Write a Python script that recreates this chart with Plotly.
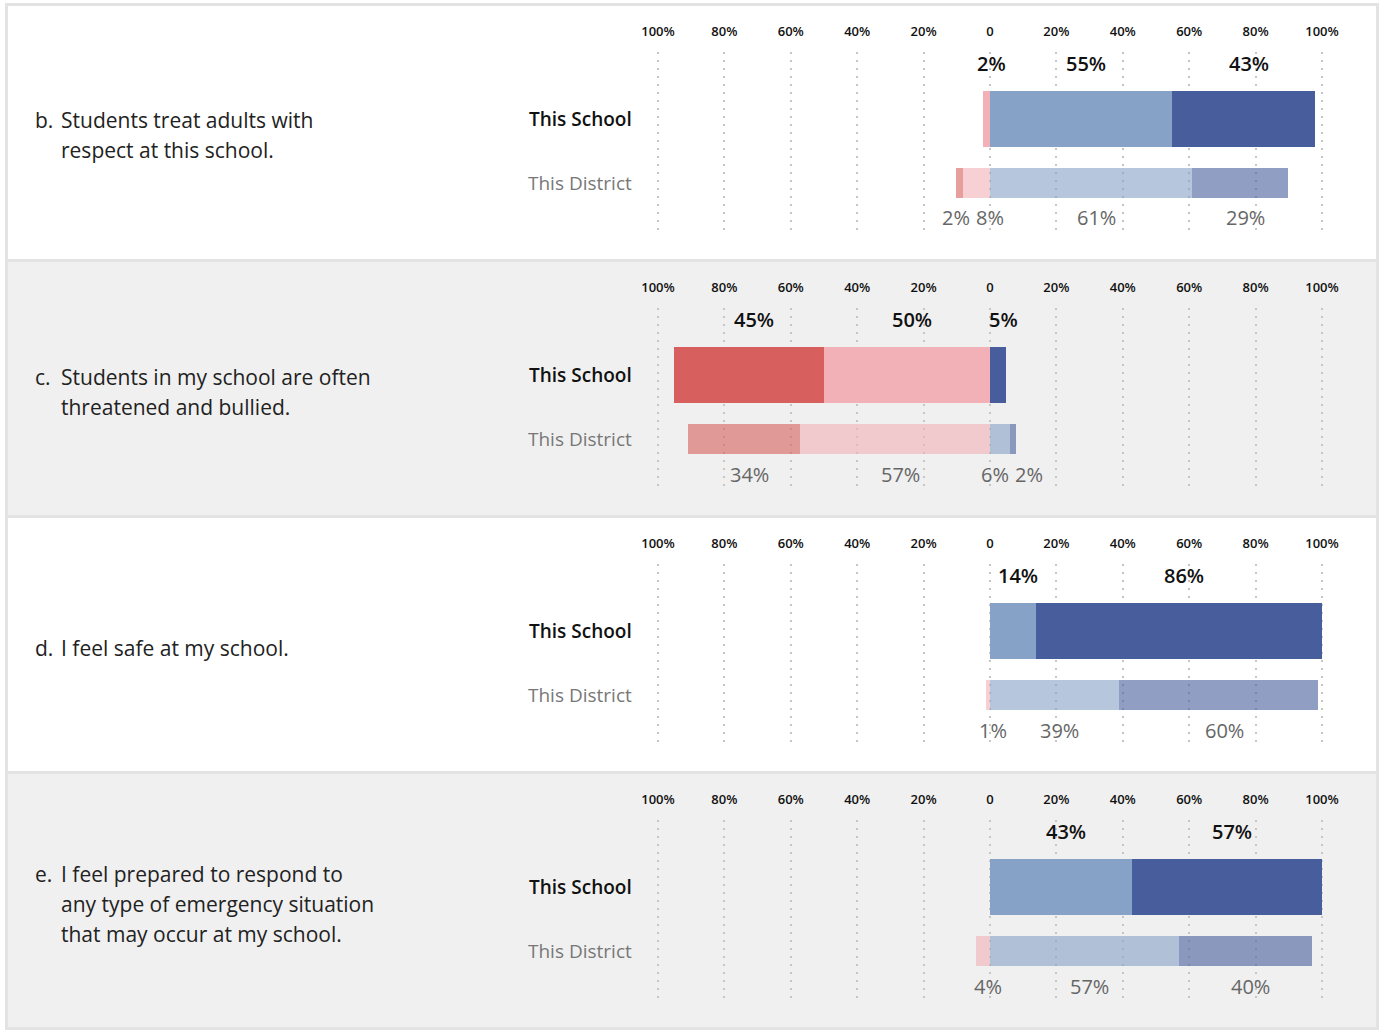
import plotly.graph_objects as go

# ---------------- data ----------------
q_letters = ["b.", "c.", "d.", "e."]
q_lines = [
    ["Students treat adults with", "respect at this school."],
    ["Students in my school are often", "threatened and bullied."],
    ["I feel safe at my school."],
    ["I feel prepared to respond to", "any type of emergency situation", "that may occur at my school."],
]
groups = ["This School", "This District"]

school_sd = [0, 45, 0, 0]
school_d = [2, 50, 0, 0]
school_a = [55, 0, 14, 43]
school_sa = [43, 5, 86, 57]

district_sd = [2, 34, 0, 0]
district_d = [8, 57, 1, 4]
district_a = [61, 6, 39, 57]
district_sa = [29, 2, 60, 40]

tick_vals = [-100, -80, -60, -40, -20, 0, 20, 40, 60, 80, 100]
tick_text = ["100%", "80%", "60%", "40%", "20%", "0", "20%", "40%", "60%", "80%", "100%"]

# ---------------- style ----------------
W, H = 1382, 1030
FONT = "Open Sans"
C_SA = "#475d9c"
C_A = "#86a2c7"
C_D = "#f2b1b6"
C_SD = "#d75f5e"
PANEL_BG = ["#ffffff", "#f0f0f0", "#ffffff", "#f0f0f0"]
BORDER = "#e3e3e3"
GRID = "#c6c6c6"
PANEL_H = 256
X_LEFT, X_RIGHT = 658, 1322          # pixel span of -100..100
PX_PER_UNIT = (X_RIGHT - X_LEFT) / 200.0
PAD_UNITS = 2                        # extra range so edge gridlines are drawn


def fx(p):
    return p / W


def fy(p):
    return 1 - p / H


fig = go.Figure()
shapes = []
annotations = []

for k in range(4):
    top = 4.5 + PANEL_H * k
    shapes.append(dict(type="rect", xref="paper", yref="paper", layer="below",
                       x0=fx(6.5), x1=fx(1377.5), y0=fy(top + PANEL_H), y1=fy(top),
                       fillcolor=PANEL_BG[k], line=dict(color=BORDER, width=3)))

    xa = "x" if k == 0 else f"x{k+1}"
    ya = "y" if k == 0 else f"y{k+1}"
    xname = "xaxis" if k == 0 else f"xaxis{k+1}"
    yname = "yaxis" if k == 0 else f"yaxis{k+1}"

    vals = {
        "sd": [school_sd[k], district_sd[k]],
        "d": [school_d[k], district_d[k]],
        "a": [school_a[k], district_a[k]],
        "sa": [school_sa[k], district_sa[k]],
    }
    widths = [0.875, 0.469]
    opac = [1.0, 0.6]
    for key, col, sign in [("d", C_D, -1), ("sd", C_SD, -1), ("a", C_A, 1), ("sa", C_SA, 1)]:
        fig.add_trace(go.Bar(
            x=[sign * v for v in vals[key]], y=groups, orientation="h",
            width=widths, marker=dict(color=col, opacity=opac, line=dict(width=0)),
            xaxis=xa, yaxis=ya, showlegend=False, hoverinfo="skip"))

    # domain of the plotting area for this panel
    d_top = 52 + PANEL_H * k
    d_bot = 235 + PANEL_H * k
    pad_px = PAD_UNITS * PX_PER_UNIT
    fig.layout[xname] = dict(domain=[fx(X_LEFT - pad_px), fx(X_RIGHT + pad_px)],
                             range=[-100 - PAD_UNITS, 100 + PAD_UNITS],
                             anchor=ya, side="top", tickvals=tick_vals, ticktext=tick_text,
                             showgrid=True, gridcolor=GRID, gridwidth=2, griddash="2px,6px",
                             zeroline=False, showline=False, ticks="outside", ticklen=10,
                             tickcolor="rgba(0,0,0,0)", fixedrange=True, automargin=False,
                             tickfont=dict(family=FONT, size=13, color="#111", weight=600))
    fig.layout[yname] = dict(domain=[fy(d_bot), fy(d_top)], type="category",
                             categoryarray=groups, range=[1.8125, -1.047],
                             anchor=xa, showticklabels=False, showgrid=False,
                             zeroline=False, fixedrange=True, automargin=False)

    # data labels
    for gi, g in enumerate(groups):
        sd, d, a, sa = vals["sd"][gi], vals["d"][gi], vals["a"][gi], vals["sa"][gi]
        labs = []
        if sd:
            labs.append([-(d + sd / 2), sd])
        if d:
            labs.append([-(d / 2), d])
        if a:
            labs.append([a / 2, a])
        if sa:
            labs.append([a + sa / 2, sa])

        # simple collision avoidance (in data units)
        def wid(v):
            return (len(f"{v}%") * 11 + 12) / PX_PER_UNIT

        for _ in range(20):
            for i in range(len(labs) - 1):
                need = (wid(labs[i][1]) + wid(labs[i + 1][1])) / 2
                gap = labs[i + 1][0] - labs[i][0]
                if gap < need:
                    push = (need - gap) / 2
                    labs[i][0] -= push
                    labs[i + 1][0] += push
        for pos, v in labs:
            if gi == 0:
                annotations.append(dict(x=pos, y=g, xref=xa, yref=ya, text=f"{v}%",
                                        showarrow=False, xshift=5, yshift=56,
                                        font=dict(family=FONT, size=20, color="#111", weight=600)))
            else:
                annotations.append(dict(x=pos, y=g, xref=xa, yref=ya, text=f"{v}%",
                                        showarrow=False, xshift=5, yshift=-35,
                                        font=dict(family=FONT, size=20, color="#666")))

    # group labels
    annotations.append(dict(x=fx(634), y=groups[0], xref="paper", yref=ya, text=groups[0],
                            showarrow=False, xanchor="right", yanchor="middle",
                            font=dict(family=FONT, size=19, color="#111", weight=600)))
    annotations.append(dict(x=fx(634), y=groups[1], xref="paper", yref=ya, text=groups[1],
                            showarrow=False, xanchor="right", yanchor="middle",
                            font=dict(family=FONT, size=19, color="#777")))

    # question text
    n = len(q_lines[k])
    center = top + PANEL_H / 2 + 3
    for i, line in enumerate(q_lines[k]):
        yc = center + (i - (n - 1) / 2) * 30
        if i == 0:
            annotations.append(dict(x=fx(33), y=fy(yc), xref="paper", yref="paper",
                                    text=q_letters[k], showarrow=False, xanchor="left",
                                    yanchor="middle",
                                    font=dict(family=FONT, size=21, color="#222")))
        annotations.append(dict(x=fx(59), y=fy(yc), xref="paper", yref="paper",
                                text=line, showarrow=False, xanchor="left", yanchor="middle",
                                font=dict(family=FONT, size=21, color="#222")))

fig.update_layout(
    width=W, height=H, autosize=False,
    margin=dict(l=0, r=0, t=0, b=0, pad=0, autoexpand=False),
    paper_bgcolor="#ffffff", plot_bgcolor="rgba(0,0,0,0)",
    barmode="relative", bargap=0, showlegend=False,
    shapes=shapes, annotations=annotations,
    font=dict(family=FONT),
)

fig.write_html(
    "out.html",
    config={"responsive": False, "displayModeBar": False},
    post_script="document.body.style.margin='0';document.body.style.overflow='hidden';",
)
